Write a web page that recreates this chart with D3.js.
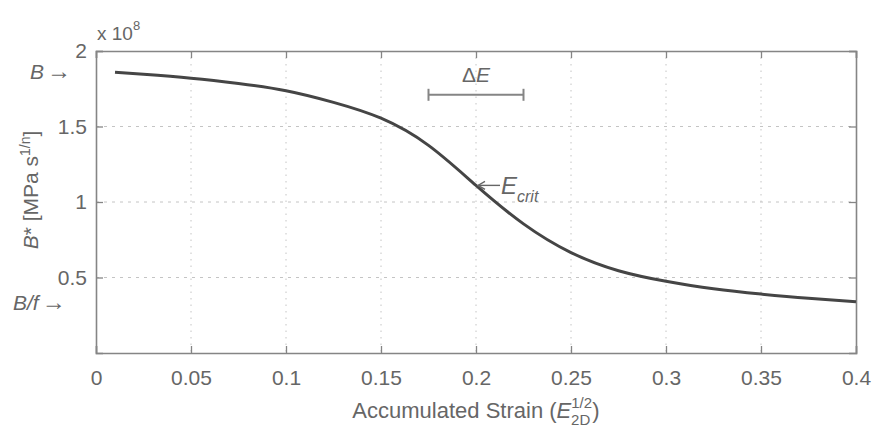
<!DOCTYPE html>
<html>
<head>
<meta charset="utf-8">
<script src="https://cdn.jsdelivr.net/npm/d3@7"></script>
<style>
  body { margin: 0; background: #fff; }
  svg text { font-family: "Liberation Sans", Arial, sans-serif; fill: #666; }
</style>
</head>
<body>
<div id="chart"></div>
<script>
// strain values and B* (x 1e8)
var strain = [0.01, 0.025, 0.05, 0.075, 0.1, 0.125, 0.15, 0.175, 0.2, 0.225, 0.25, 0.275, 0.3, 0.325, 0.35, 0.375, 0.4];
var bStar = [1.86, 1.846, 1.82, 1.785, 1.737, 1.66, 1.555, 1.375, 1.11, 0.855, 0.665, 0.545, 0.475, 0.425, 0.39, 0.362, 0.34];
var xTicks = [0, 0.05, 0.1, 0.15, 0.2, 0.25, 0.3, 0.35, 0.4];
var yTicks = [0.5, 1, 1.5, 2];
var deltaE = [0.175, 0.225];
var eCrit = 0.2;

(function () {
    var W = 883, H = 432;
    var margin = { top: 51, right: 27, bottom: 79, left: 96 };
    var width = W - margin.left - margin.right;
    var height = H - margin.top - margin.bottom;
    var axisCol = '#858585';

    var svg = d3.select('#chart').append('svg')
        .attr('width', W).attr('height', H);
    var g = svg.append('g')
        .attr('transform', 'translate(' + margin.left + ',' + margin.top + ')');

    var x = d3.scaleLinear().domain([0, 0.4]).range([0, width]);
    var y = d3.scaleLinear().domain([0, 2]).range([height, 0]);

    // grid
    g.selectAll('.vgrid').data(xTicks.slice(1, -1)).enter().append('line')
        .attr('x1', function (d) { return x(d); }).attr('x2', function (d) { return x(d); })
        .attr('y1', 0).attr('y2', height)
        .attr('stroke', '#c4c4c4').attr('stroke-dasharray', '1.5,5');
    g.selectAll('.hgrid').data(yTicks.slice(0, -1)).enter().append('line')
        .attr('y1', function (d) { return y(d); }).attr('y2', function (d) { return y(d); })
        .attr('x1', 0).attr('x2', width)
        .attr('stroke', '#c4c4c4').attr('stroke-dasharray', '3,5');

    // axes (inner ticks on all sides)
    function styleAxis(sel) {
        sel.select('.domain').attr('stroke', axisCol).attr('stroke-width', 1.6);
        sel.selectAll('.tick line').attr('stroke', axisCol).attr('stroke-width', 1.3);
        sel.selectAll('text').style('font-size', '21px').attr('fill', '#6a6a6a');
    }
    g.append('g').attr('transform', 'translate(0,' + height + ')')
        .call(d3.axisBottom(x).tickValues(xTicks).tickSize(-7).tickPadding(17).tickFormat(d3.format('')))
        .call(styleAxis);
    g.append('g')
        .call(d3.axisLeft(y).tickValues(yTicks).tickSize(-7).tickPadding(9).tickFormat(d3.format('')))
        .call(styleAxis);
    g.append('g')
        .call(d3.axisTop(x).tickValues(xTicks).tickSize(-7).tickFormat(''))
        .call(styleAxis);
    g.append('g').attr('transform', 'translate(' + width + ',0)')
        .call(d3.axisRight(y).tickValues(yTicks).tickSize(-7).tickFormat(''))
        .call(styleAxis);

    // curve
    var line = d3.line()
        .curve(d3.curveNatural)
        .x(function (d, i) { return x(strain[i]); })
        .y(function (d) { return y(d); });
    g.append('path').datum(bStar)
        .attr('fill', 'none').attr('stroke', '#454545').attr('stroke-width', 3)
        .attr('d', line);

    // delta E bar
    var by = y(1.71);
    g.append('line').attr('x1', x(deltaE[0])).attr('x2', x(deltaE[1]))
        .attr('y1', by).attr('y2', by).attr('stroke', axisCol).attr('stroke-width', 2);
    deltaE.forEach(function (d) {
        g.append('line').attr('x1', x(d)).attr('x2', x(d))
            .attr('y1', by - 6).attr('y2', by + 6).attr('stroke', axisCol).attr('stroke-width', 2);
    });
    g.append('text').attr('x', x(0.2)).attr('y', by - 13).attr('text-anchor', 'middle')
        .style('font-size', '21px')
        .html('Δ<tspan font-style="italic">E</tspan>');

    // E_crit arrow
    var ay = y(1.11);
    g.append('line').attr('x1', x(eCrit) + 2).attr('x2', x(eCrit) + 24)
        .attr('y1', ay).attr('y2', ay).attr('stroke', '#666').attr('stroke-width', 1.4);
    g.append('path')
        .attr('d', 'M' + (x(eCrit) + 9) + ',' + (ay - 4) + 'L' + (x(eCrit) + 2) + ',' + ay + 'L' + (x(eCrit) + 9) + ',' + (ay + 4))
        .attr('fill', 'none').attr('stroke', '#666').attr('stroke-width', 1.4);
    g.append('text').attr('x', x(eCrit) + 25).attr('y', ay + 9)
        .style('font-size', '24px').style('font-style', 'italic')
        .html('E<tspan dy="8" style="font-size:16px">crit</tspan>');

    // exponent label
    svg.append('text').attr('x', 97).attr('y', 40).style('font-size', '19px')
        .html('x 10<tspan dy="-10" style="font-size:13px">8</tspan>');

    // B and B/f markers
    svg.append('text').attr('x', 30).attr('y', y(1.86) + margin.top + 7).style('font-size', '21px')
        .html('<tspan font-style="italic">B</tspan><tspan dx="3" style="font-size:24px">→</tspan>');
    svg.append('text').attr('x', 13).attr('y', y(0.33) + margin.top + 7).style('font-size', '21px')
        .html('<tspan font-style="italic">B/f</tspan><tspan dx="3" style="font-size:24px">→</tspan>');

    // y label
    svg.append('text')
        .attr('transform', 'translate(38,' + (margin.top + height / 2 - 12) + ') rotate(-90)')
        .attr('text-anchor', 'middle').style('font-size', '21px')
        .html('<tspan font-style="italic">B</tspan>* [MPa s<tspan dy="-8" style="font-size:14px">1/n</tspan><tspan dy="8">]</tspan>');

    // x label
    svg.append('text').attr('x', margin.left + width / 2).attr('y', 418)
        .attr('text-anchor', 'middle').style('font-size', '22px')
        .html('Accumulated Strain (<tspan font-style="italic">E</tspan><tspan dy="-10" style="font-size:15px">1/2</tspan><tspan dx="-21" dy="17" style="font-size:15px">2D</tspan><tspan dx="2" dy="-7">)</tspan>');
})();
</script>
</body>
</html>
